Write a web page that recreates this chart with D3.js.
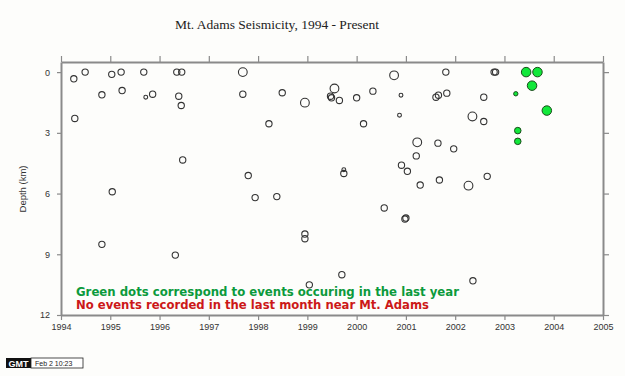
<!DOCTYPE html>
<html>
<head>
<meta charset="utf-8">
<script src="https://cdn.jsdelivr.net/npm/d3@7"></script>
<style>
  html, body { margin: 0; padding: 0; background: #fdfdfb; }
  svg { display: block; }
</style>
</head>
<body>
<div id="chart"></div>
<script>
// Events older than one year (decimal year, depth km, magnitude-ish size)
const oldYears = [
  1994.26, 1994.49, 1995.03, 1995.22, 1995.68, 1996.35, 1996.45, 1994.83, 1995.24, 1995.72,
  1995.86, 1996.39, 1996.44, 1994.28, 1996.47, 1995.04, 1994.83, 1996.32, 1997.69, 1997.69,
  1998.49, 1998.95, 1999.47, 1999.49, 1999.55, 1999.65, 2000.00, 2000.33, 2000.76, 2000.90,
  2000.87, 1998.22, 2000.14, 2001.23, 2001.21, 2000.91, 2001.03, 1997.80, 1999.74, 1999.74,
  2001.29, 1997.94, 1998.38, 2001.81, 2002.79, 2002.82, 2001.61, 2001.66, 2001.83, 2002.58,
  2002.35, 2002.58, 2001.65, 2001.97, 2001.68, 2002.27, 2002.65, 2000.56, 2001.00, 2000.98,
  1998.95, 1998.95, 1999.70, 1999.04, 2002.36
];
const oldDepths = [
  0.33, 0.00, 0.11, 0.00, 0.00, 0.00, 0.00, 1.12, 0.91, 1.24,
  1.09, 1.19, 1.65, 2.29, 4.34, 5.91, 8.51, 9.04, 0.00, 1.09,
  1.02, 1.51, 1.19, 1.27, 0.81, 1.40, 1.27, 0.94, 0.16, 1.14,
  2.13, 2.55, 2.55, 3.47, 4.14, 4.60, 4.90, 5.11, 5.01, 4.82,
  5.58, 6.20, 6.15, 0.00, 0.00, 0.00, 1.24, 1.14, 1.04, 1.24,
  2.19, 2.44, 3.51, 3.79, 5.33, 5.61, 5.15, 6.71, 7.21, 7.26,
  8.00, 8.23, 10.01, 10.51, 10.31
];
const oldMags = [
  1.5, 1.5, 1.5, 1.5, 1.5, 1.5, 1.5, 1.5, 1.5, 0.5,
  1.5, 1.5, 1.5, 1.5, 1.5, 1.5, 1.5, 1.5, 2.5, 1.5,
  1.5, 2.5, 1.5, 1.5, 2.5, 1.5, 1.5, 1.5, 2.5, 0.5,
  0.5, 1.5, 1.5, 2.5, 1.5, 1.5, 1.5, 1.5, 1.5, 0.5,
  1.5, 1.5, 1.5, 1.5, 1.5, 1.5, 1.5, 1.5, 1.5, 1.5,
  2.5, 1.5, 1.5, 1.5, 1.5, 2.5, 1.5, 1.5, 1.5, 1.5,
  1.5, 1.5, 1.5, 1.5, 1.5
];

// Events in the last year (green)
const newYears = [2003.44, 2003.67, 2003.56, 2003.23, 2003.86, 2003.27, 2003.27];
const newDepths = [0.00, 0.00, 0.67, 1.07, 1.90, 2.89, 3.42];
const newMags = [2.8, 2.8, 2.8, 0.7, 2.8, 1.6, 1.6];

const yearTicks = [1994, 1995, 1996, 1997, 1998, 1999, 2000, 2001, 2002, 2003, 2004, 2005];
const depthTicks = [0, 3, 6, 9, 12];

const width = 625, height = 376;
const margin = { top: 62, right: 22, bottom: 61, left: 61 };

const svg = d3.select("#chart")
  .append("svg")
  .attr("width", width)
  .attr("height", height);

svg.append("rect")
  .attr("width", width)
  .attr("height", height)
  .attr("fill", "#fdfdfb");

const x = d3.scaleLinear()
  .domain([1994, 2005])
  .range([margin.left, width - margin.right]);

const y = d3.scaleLinear()
  .domain([-0.5, 12])
  .range([margin.top, height - margin.bottom]);

const r = d3.scaleLinear()
  .domain([0, 3])
  .range([1.3, 5.0]);

// Title
svg.append("text")
  .attr("x", 277)
  .attr("y", 29)
  .attr("text-anchor", "middle")
  .style("font-family", "'Liberation Serif', 'Times New Roman', serif")
  .style("font-size", "13.5px")
  .style("fill", "#222")
  .text("Mt. Adams Seismicity, 1994 - Present");

const axisColor = "#8a8a8a";

function styleAxis(g) {
  g.select(".domain").attr("stroke", axisColor).attr("stroke-width", 2);
  g.selectAll(".tick line").attr("stroke", axisColor).attr("stroke-width", 1.2);
  g.selectAll(".tick text")
    .style("font-family", "'Liberation Sans', Arial, sans-serif")
    .style("font-size", "9px")
    .style("fill", "#333");
}

// Bottom axis with year labels
svg.append("g")
  .attr("transform", `translate(0,${height - margin.bottom})`)
  .call(d3.axisBottom(x).tickValues(yearTicks).tickFormat(d3.format("d")).tickSize(5).tickSizeOuter(0).tickPadding(4))
  .call(styleAxis);

// Top axis, ticks only
svg.append("g")
  .attr("transform", `translate(0,${margin.top})`)
  .call(d3.axisTop(x).tickValues(yearTicks).tickFormat("").tickSize(6).tickSizeOuter(0))
  .call(styleAxis);

// Left axis with depth labels
svg.append("g")
  .attr("transform", `translate(${margin.left},0)`)
  .call(d3.axisLeft(y).tickValues(depthTicks).tickSize(4).tickSizeOuter(0).tickPadding(7))
  .call(styleAxis);

// Right axis, ticks only
svg.append("g")
  .attr("transform", `translate(${width - margin.right},0)`)
  .call(d3.axisRight(y).tickValues(depthTicks).tickFormat("").tickSize(6).tickSizeOuter(0))
  .call(styleAxis);

// Y label
svg.append("text")
  .attr("transform", "translate(26,189) rotate(-90)")
  .attr("text-anchor", "middle")
  .style("font-family", "'Liberation Sans', Arial, sans-serif")
  .style("font-size", "9.5px")
  .style("fill", "#333")
  .text("Depth (km)");

// Older events
const oldData = oldYears.map((yr, i) => ({ yr, depth: oldDepths[i], mag: oldMags[i] }));
svg.append("g")
  .selectAll("circle")
  .data(oldData)
  .enter()
  .append("circle")
  .attr("cx", d => x(d.yr))
  .attr("cy", d => y(d.depth))
  .attr("r", d => r(d.mag))
  .attr("fill", "none")
  .attr("stroke", "#333")
  .attr("stroke-width", 1.1);

// Recent events
const newData = newYears.map((yr, i) => ({ yr, depth: newDepths[i], mag: newMags[i] }));
svg.append("g")
  .selectAll("circle")
  .data(newData)
  .enter()
  .append("circle")
  .attr("cx", d => x(d.yr))
  .attr("cy", d => y(d.depth))
  .attr("r", d => r(d.mag))
  .attr("fill", "#11e83a")
  .attr("stroke", "#1a4a1a")
  .attr("stroke-width", 1);

// Notes
svg.append("text")
  .attr("x", 76)
  .attr("y", 296)
  .attr("textLength", 383)
  .attr("lengthAdjust", "spacingAndGlyphs")
  .style("font-family", "'DejaVu Sans', Verdana, sans-serif")
  .style("font-weight", "bold")
  .style("font-size", "11.5px")
  .style("fill", "#0c9a3c")
  .text("Green dots correspond to events occuring in the last year");

svg.append("text")
  .attr("x", 76)
  .attr("y", 309)
  .attr("textLength", 353)
  .attr("lengthAdjust", "spacingAndGlyphs")
  .style("font-family", "'DejaVu Sans', Verdana, sans-serif")
  .style("font-weight", "bold")
  .style("font-size", "11.5px")
  .style("fill", "#cc1818")
  .text("No events recorded in the last month near Mt. Adams");

// GMT stamp
const stamp = svg.append("g").attr("transform", "translate(6,358)");
stamp.append("rect")
  .attr("width", 25).attr("height", 10)
  .attr("fill", "#111");
stamp.append("text")
  .attr("x", 12.5).attr("y", 8.5)
  .attr("text-anchor", "middle")
  .style("font-family", "'Liberation Sans', Arial, sans-serif")
  .style("font-weight", "bold")
  .style("font-size", "9px")
  .style("fill", "#fff")
  .text("GMT");
stamp.append("rect")
  .attr("x", 25).attr("width", 52).attr("height", 10)
  .attr("fill", "#fff")
  .attr("stroke", "#222")
  .attr("stroke-width", 0.8);
stamp.append("text")
  .attr("x", 29).attr("y", 8)
  .style("font-family", "'Liberation Sans', Arial, sans-serif")
  .style("font-size", "7px")
  .style("fill", "#222")
  .text("Feb 2 10:23");
</script>
</body>
</html>
